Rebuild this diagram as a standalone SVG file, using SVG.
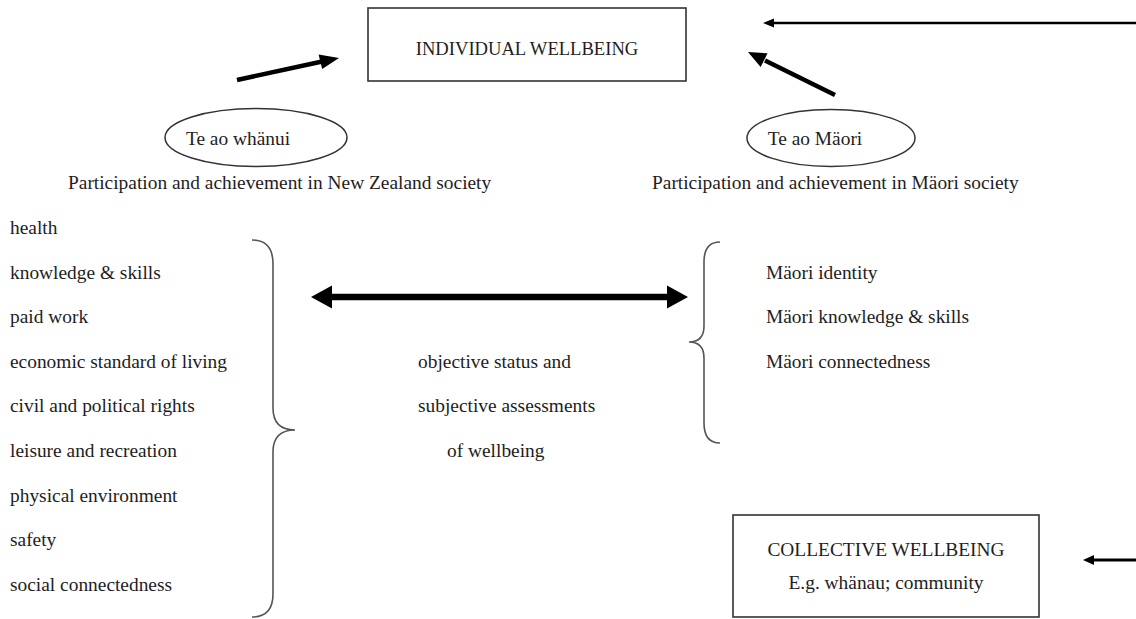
<svg xmlns="http://www.w3.org/2000/svg" width="1136" height="619" viewBox="0 0 1136 619">
<style>
  text { font-family: "Liberation Serif", "Times New Roman", serif; font-size: 19.4px; fill: #1e1e1e; }
  .box { fill: #fff; stroke: #333; stroke-width: 1.6; }
  .ell { fill: #fff; stroke: #333; stroke-width: 1.5; }
  .brace { fill: none; stroke: #555; stroke-width: 1.6; }
  .thick { stroke: #000; stroke-width: 4.5; stroke-linecap: butt; fill: none; }
  .thin { stroke: #000; stroke-width: 2.6; fill: none; }
  .head { fill: #000; }
</style>
<rect width="1136" height="619" fill="#fff"/>

<g id="individual-wellbeing">
  <rect class="box" x="368" y="8" width="318" height="73"/>
  <text x="527" y="55" text-anchor="middle" style="font-size:18.6px">INDIVIDUAL WELLBEING</text>
</g>

<g id="te-ao-whanui">
  <ellipse class="ell" cx="256" cy="137.5" rx="91" ry="29"/>
  <text x="238" y="145" text-anchor="middle">Te ao whänui</text>
</g>

<g id="te-ao-maori">
  <ellipse class="ell" cx="831" cy="138" rx="84" ry="28.5"/>
  <text x="815" y="145" text-anchor="middle">Te ao Mäori</text>
</g>

<g id="nz-society">
  <text x="68" y="189">Participation and achievement in New Zealand society</text>
</g>

<g id="maori-society">
  <text x="652" y="189">Participation and achievement in Mäori society</text>
</g>

<g id="nz-domains">
  <text x="10" y="234">health</text>
  <text x="10" y="278.6">knowledge &amp; skills</text>
  <text x="10" y="323.2">paid work</text>
  <text x="10" y="367.8">economic standard of living</text>
  <text x="10" y="412.4">civil and political rights</text>
  <text x="10" y="457">leisure and recreation</text>
  <text x="10" y="501.6">physical environment</text>
  <text x="10" y="546.2">safety</text>
  <text x="10" y="590.8">social connectedness</text>
  <path class="brace" d="M252,240 Q273,240 273,264 L273,408 Q273,430 295,430 Q273,430 273,452 L273,594 Q273,617 252,617"/>
</g>

<g id="status-assessments">
  <text x="418" y="367.8">objective status and</text>
  <text x="418" y="412.4">subjective assessments</text>
  <text x="447" y="457">of wellbeing</text>
</g>

<g id="maori-domains">
  <path class="brace" d="M720,242 Q704,242 704,262 L704,326 Q704,342 689,342 Q704,342 704,358 L704,423 Q704,443 720,443"/>
  <text x="766" y="278.6">Mäori identity</text>
  <text x="766" y="323.2">Mäori knowledge &amp; skills</text>
  <text x="766" y="367.8">Mäori connectedness</text>
</g>

<g id="collective-wellbeing">
  <rect class="box" x="733" y="515" width="306" height="102"/>
  <text x="886" y="556" text-anchor="middle">COLLECTIVE WELLBEING</text>
  <text x="886" y="589" text-anchor="middle">E.g. whänau; community</text>
</g>

<g id="connectors">
  <!-- left diagonal to individual -->
  <line class="thick" x1="237" y1="80" x2="321" y2="61.8"/>
  <polygon class="head" points="339,58 322.2,69 318.6,54.6"/>
  <!-- right diagonal to individual -->
  <line class="thick" x1="835" y1="95" x2="765" y2="60.5"/>
  <polygon class="head" points="748,52 767.6,53.3 760.6,67.1"/>
  <!-- top right long arrow -->
  <line class="thin" x1="1136" y1="23" x2="770" y2="23"/>
  <polygon class="head" points="763,23 774,18.5 774,27.5"/>
  <!-- double arrow -->
  <line stroke="#000" stroke-width="6.5" x1="328" y1="297" x2="671" y2="297"/>
  <polygon class="head" points="311,297 332,285.5 332,308.5"/>
  <polygon class="head" points="688,297 667,285.5 667,308.5"/>
  <!-- bottom right arrow -->
  <line class="thin" x1="1136" y1="560" x2="1090" y2="560" style="stroke-width:3"/>
  <polygon class="head" points="1083,560 1094,555 1094,565"/>
</g>
</svg>
